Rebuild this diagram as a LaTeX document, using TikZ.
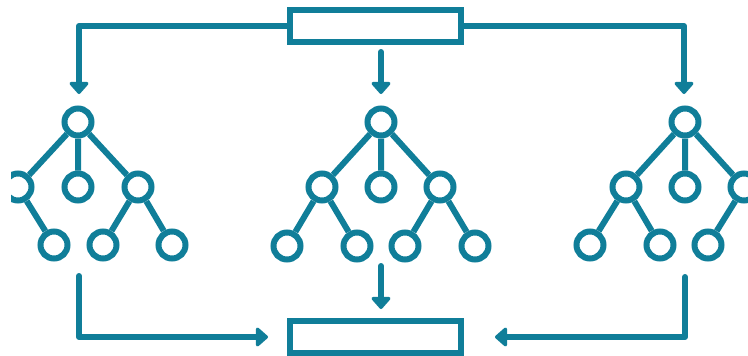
\documentclass[tikz,border=0pt]{standalone}
\usetikzlibrary{arrows.meta}
\definecolor{flowteal}{RGB}{16,126,153}
\begin{document}
\begin{tikzpicture}[x=1pt,y=-1pt,
  box/.style={draw=flowteal, line width=6pt, fill=white, inner sep=0pt,
              minimum width=171pt, minimum height=32pt},
  leaf/.style={circle, draw=flowteal, line width=6pt, fill=white,
               inner sep=0pt, minimum size=27pt},
  link/.style={draw=flowteal, line width=6pt},
  flow/.style={link, line join=round, line cap=round,
               -{Triangle[round, width=22pt, length=13pt]}}]
\useasboundingbox (0,0) rectangle (748,356);
\clip (11,0) rectangle (748,356);

% source and sink blocks
\node[box] (src) at (375.5,26) {};
\node[box] (dst) at (375,337) {};

% left tree
\node[leaf] (Lr)  at (78,122)  {};
\node[leaf] (La)  at (18,187)  {};
\node[leaf] (Lb)  at (78,187)  {};
\node[leaf] (Lc)  at (138,187) {};
\node[leaf] (La2) at (54,245)  {};
\node[leaf] (Lc1) at (103,245) {};
\node[leaf] (Lc2) at (172,245) {};
\draw[link] (Lr) -- (La) (Lr) -- (Lb) (Lr) -- (Lc)
            (La) -- (La2) (Lc) -- (Lc1) (Lc) -- (Lc2);

% middle tree
\node[leaf] (Mr)  at (381,122) {};
\node[leaf] (Ma)  at (322,187) {};
\node[leaf] (Mb)  at (381,187) {};
\node[leaf] (Mc)  at (440,187) {};
\node[leaf] (Ma1) at (287,246) {};
\node[leaf] (Ma2) at (357,246) {};
\node[leaf] (Mc1) at (405,246) {};
\node[leaf] (Mc2) at (475,246) {};
\draw[link] (Mr) -- (Ma) (Mr) -- (Mb) (Mr) -- (Mc)
            (Ma) -- (Ma1) (Ma) -- (Ma2) (Mc) -- (Mc1) (Mc) -- (Mc2);

% right tree
\node[leaf] (Rr)  at (685,122) {};
\node[leaf] (Ra)  at (626,187) {};
\node[leaf] (Rb)  at (685,187) {};
\node[leaf] (Rc)  at (744,187) {};
\node[leaf] (Ra1) at (590,245) {};
\node[leaf] (Ra2) at (660,245) {};
\node[leaf] (Rc1) at (708,245) {};
\draw[link] (Rr) -- (Ra) (Rr) -- (Rb) (Rr) -- (Rc)
            (Ra) -- (Ra1) (Ra) -- (Ra2) (Rc) -- (Rc1);

% connector end points
\coordinate (inL) at (79,94);
\coordinate (inR) at (684,94);
\coordinate (mS)  at (381,52);
\coordinate (mE)  at (381,94);
\coordinate (oL)  at (79,276);
\coordinate (dL)  at (268,337);
\coordinate (oR)  at (685,277);
\coordinate (dR)  at (495,337);
\coordinate (bS)  at (381,266);
\coordinate (bE)  at (381,309);

% distribution to the trees
\draw[flow] (src.west) -| (inL);
\draw[flow] (src.east) -| (inR);
\draw[flow] (mS) -- (mE);

% collection into the sink
\draw[flow] (oL) |- (dL);
\draw[flow] (oR) |- (dR);
\draw[flow] (bS) -- (bE);
\end{tikzpicture}
\end{document}
